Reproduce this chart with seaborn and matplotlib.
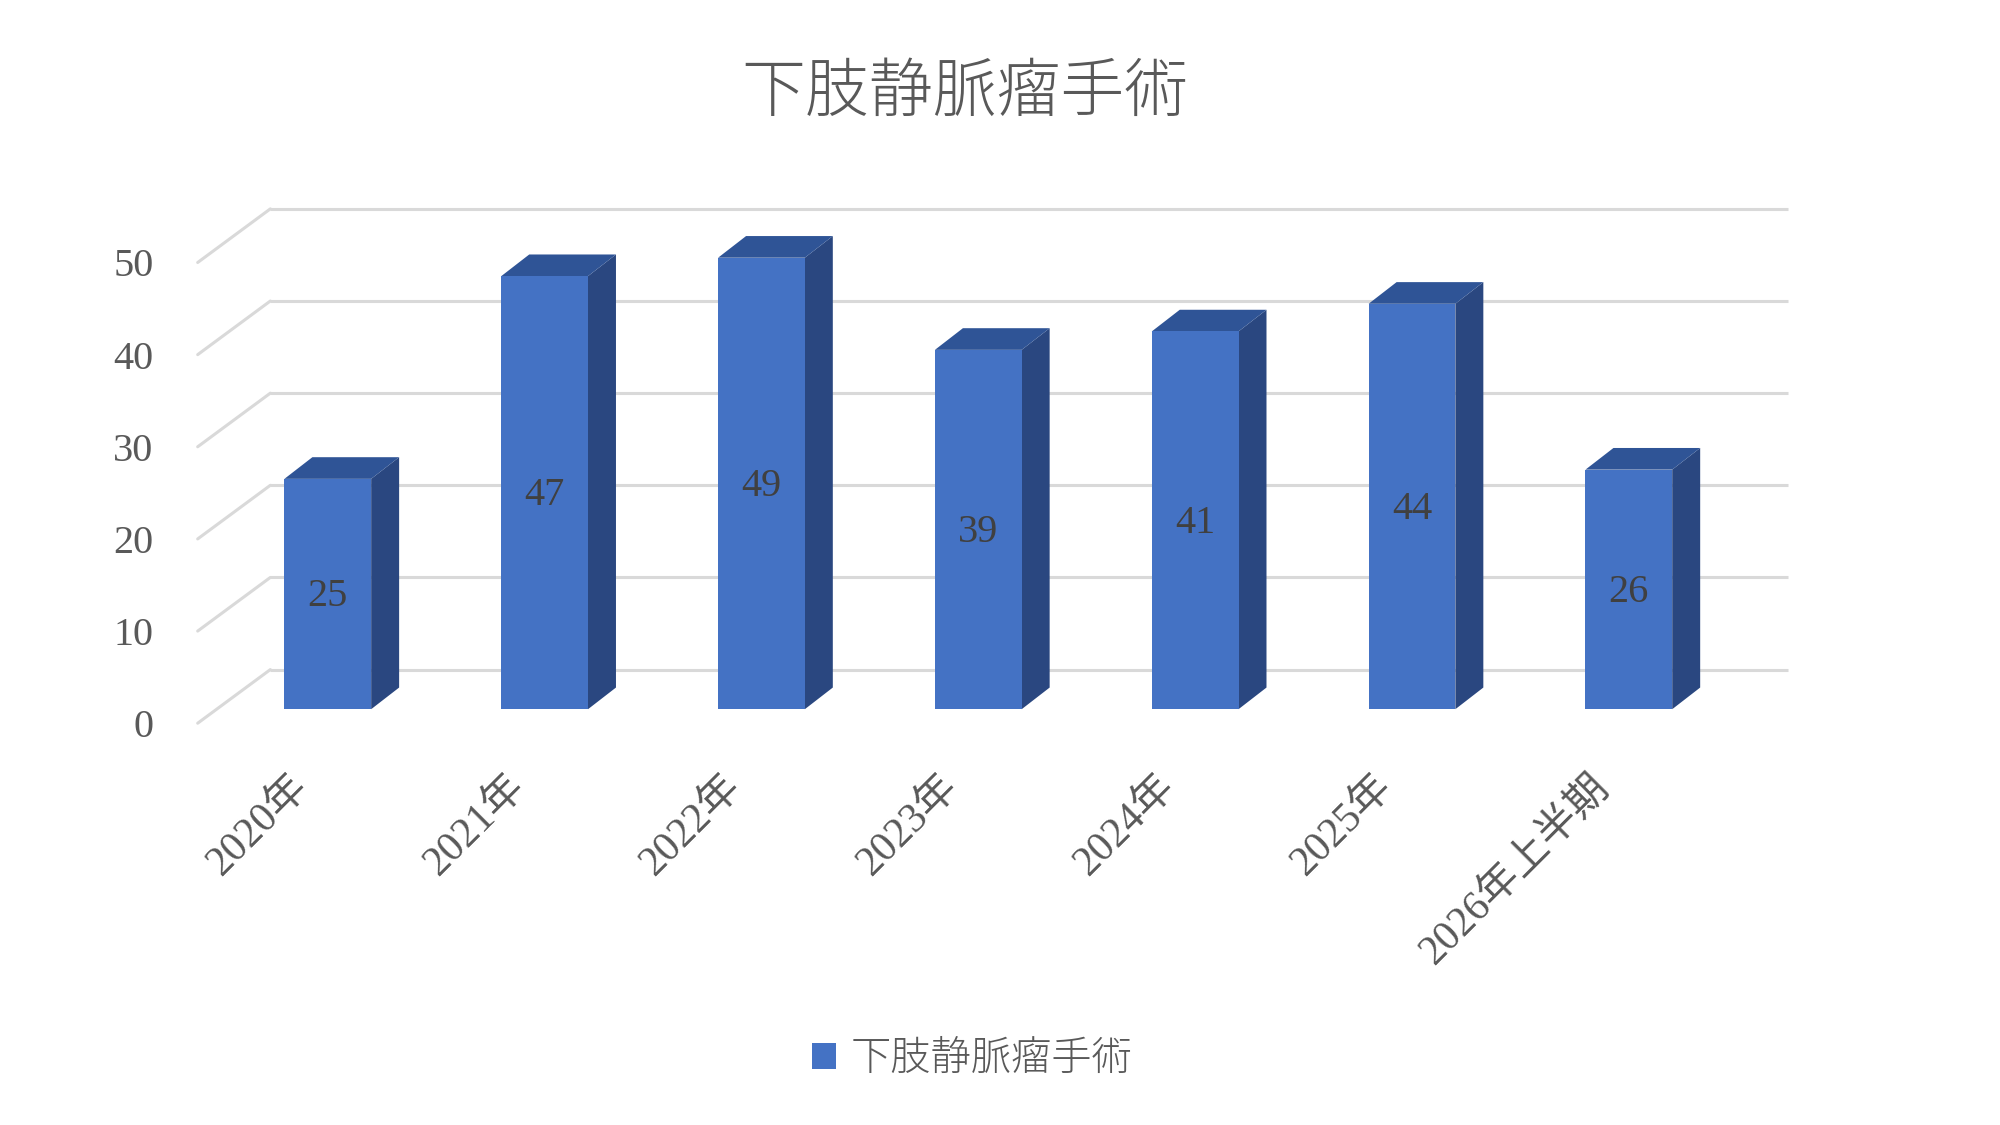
import numpy as np
import pandas as pd
import matplotlib
matplotlib.use("Agg")
import matplotlib.pyplot as plt
from matplotlib.patches import Polygon, Patch
import seaborn as sns

categories = ["2020年", "2021年", "2022年", "2023年", "2024年", "2025年", "2026年上半期"]
values = [25, 47, 49, 39, 41, 44, 26]
series_name = "下肢静脈瘤手術"
title = "下肢静脈瘤手術"
y_ticks = [0, 10, 20, 30, 40, 50]

sns.set_theme(style="white")
plt.rcParams["font.family"] = ["Liberation Serif", "Noto Sans CJK JP", "DejaVu Sans"]

FRONT = "#4472C4"
SIDE = "#2A4780"
TOP = "#2F5496"
GRID = "#D9D9D9"
TXT = "#595959"

fig = plt.figure(figsize=(20, 11.25), dpi=100)
ax = fig.add_axes([0.0893, 0.3424, 0.8163, 0.4875])

df = pd.DataFrame({"cat": categories, "val": values})
sns.barplot(data=df, x="cat", y="val", color=FRONT, saturation=1, width=0.4,
            ax=ax, zorder=3, linewidth=0)

# oblique depth parameters (data units)
bar_dx, bar_dy = 0.129, 2.35
back_dx, back_dy = 0.247, 4.3
front_dx, front_dy = -0.088, -1.52

x_back_left = -0.265
x_back_right = len(categories) - 1 + 0.735
for v in y_ticks:
    ax.plot([x_back_left, x_back_right], [v + back_dy, v + back_dy], color=GRID,
            lw=2.2, zorder=1, solid_capstyle="butt")
    ax.plot([x_back_left - (back_dx - front_dx), x_back_left], [v + front_dy, v + back_dy],
            color=GRID, lw=2.2, zorder=1)

for p, v in zip(ax.patches, values):
    x0 = p.get_x()
    w = p.get_width()
    x1 = x0 + w
    h = p.get_height()
    side = Polygon([(x1, 0), (x1 + bar_dx, bar_dy), (x1 + bar_dx, h + bar_dy), (x1, h)],
                   closed=True, facecolor=SIDE, edgecolor="none", zorder=2.5)
    top = Polygon([(x0, h), (x1, h), (x1 + bar_dx, h + bar_dy), (x0 + bar_dx, h + bar_dy)],
                  closed=True, facecolor=TOP, edgecolor="none", zorder=2.5)
    ax.add_patch(side)
    ax.add_patch(top)
    ax.text(x0 + w / 2, h / 2 - 0.3, str(v), ha="center", va="center", fontsize=29,
            color="#404040", zorder=5)

ax.set_xlim(-0.688, 6.841)
ax.set_ylim(-3.32, 56.2)

ax.set_yticks([v + front_dy for v in y_ticks], labels=[str(v) for v in y_ticks])
ax.tick_params(axis="y", length=0, pad=18, labelsize=29, labelcolor=TXT)

ax.set_xticks(np.arange(len(categories)) - 0.12, labels=categories)
ax.tick_params(axis="x", length=0, pad=30, labelsize=30, labelcolor=TXT)
for lab in ax.get_xticklabels():
    lab.set_rotation(45)
    lab.set_ha("right")
    lab.set_va("center")
    lab.set_rotation_mode("anchor")

ax.set_xlabel("")
ax.set_ylabel("")
for s in ax.spines.values():
    s.set_visible(False)
ax.grid(False)

fig.text(0.4825, 1 - 93 / 1125, title, ha="center", va="center", fontsize=46,
         color=TXT, family=["Noto Sans CJK JP", "DejaVu Sans"], fontweight="light")

handle = Patch(facecolor=FRONT, edgecolor="none", label=series_name)
leg = fig.legend(handles=[handle], loc="center", bbox_to_anchor=(0.486, 1 - 1059 / 1125),
                 frameon=False, handlelength=0.6, handleheight=0.6,
                 handletextpad=0.35,
                 prop={"family": ["Noto Sans CJK JP", "DejaVu Sans"], "size": 29,
                       "weight": "light"})
for t in leg.get_texts():
    t.set_color(TXT)

fig.savefig("out.png", dpi=100, facecolor="white")
